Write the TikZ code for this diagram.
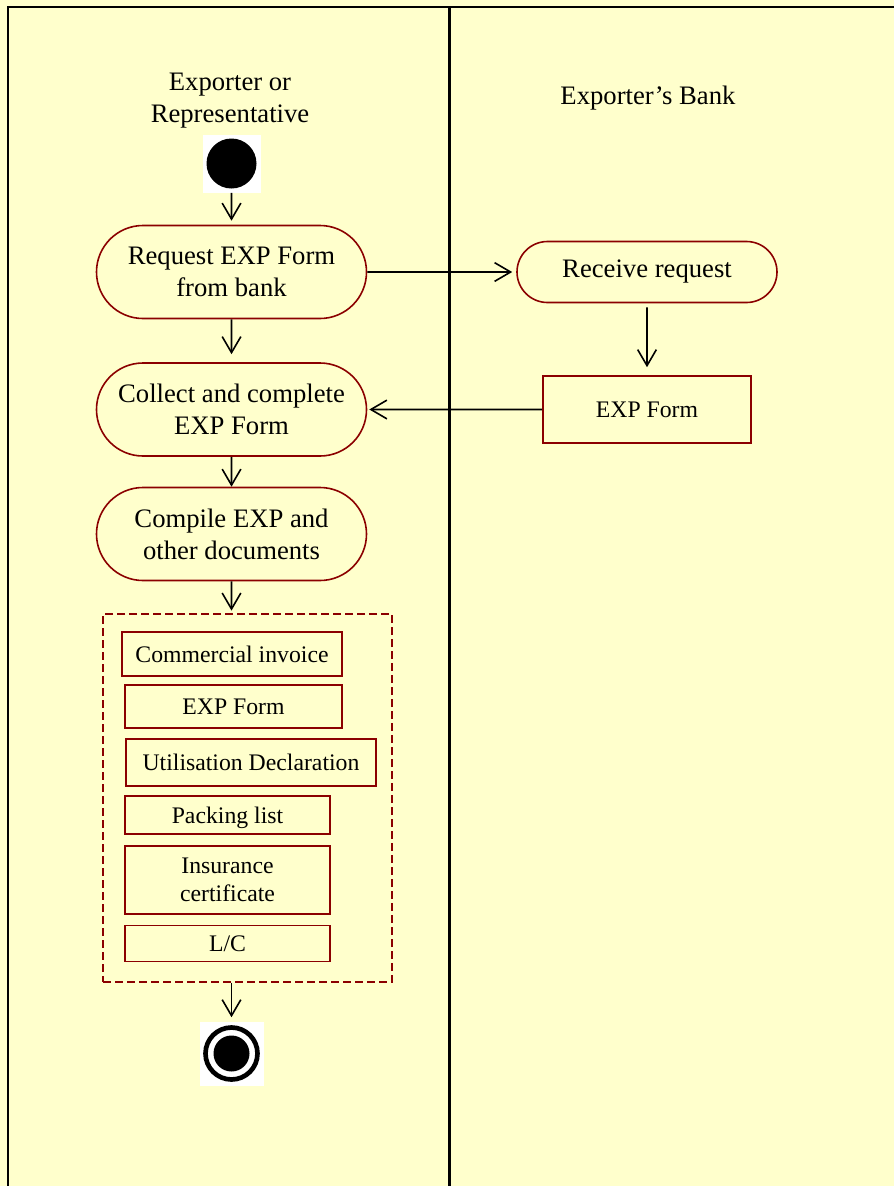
\documentclass[tikz,border=0pt]{standalone}
\usepackage{fontspec}
\setmainfont{Liberation Serif}
\usetikzlibrary{arrows.meta,shapes.misc}
\definecolor{lane}{HTML}{FFFFCC}
\definecolor{edge}{HTML}{8B0000}
\begin{document}
\begin{tikzpicture}[x=0.75pt,y=-0.75pt,
  act/.style={rounded rectangle, draw=edge, fill=lane, line width=1.2pt, align=center, font=\fontsize{20}{24}\selectfont, inner sep=0pt},
  doc/.style={rectangle, draw=edge, fill=lane, line width=1.2pt, align=center, font=\fontsize{17.8}{21}\selectfont, inner sep=0pt},
  flow/.style={-{Straight Barb[length=12pt,width=14pt]}, line width=1.2pt},
  lanetitle/.style={align=center, font=\fontsize{20}{23.5}\selectfont}]
\useasboundingbox (0,0) rectangle (894,1186);
\fill[lane] (0,0) rectangle (894,1186);
\draw[line width=1.5pt] (7.5,1186) -- (7.5,6.5) -- (894,6.5);
\draw[line width=2.3pt] (449.5,6.5) -- (449.5,1186);

% lanes
\node (exporter) at (230,100.5) [lanetitle] {Exporter or\\Representative};
\node (bank) at (648,98) [lanetitle] {Exporter’s Bank};

% exporter side
\node (start) at (231.5,163.5) [fill=white, minimum size=43.5pt, inner sep=0pt] {};
\node (startdot) at (start) [circle, fill=black, minimum size=37.5pt, inner sep=0pt] {};
\node (req) at (231.5,272) [act, minimum width=202.5pt, minimum height=69.75pt] {Request EXP Form\\from bank};
\node (coll) at (231.5,409.5) [act, minimum width=202.5pt, minimum height=69.75pt] {Collect and complete\\EXP Form};
\node (comp) at (231.5,534) [act, minimum width=202.5pt, minimum height=69.75pt] {Compile EXP and\\other documents};
\node (docs) at (247.5,798) [draw=edge, dash pattern=on 6pt off 3pt, line width=1.1pt, minimum width=216.75pt, minimum height=276pt, inner sep=0pt] {};
\node (invoice) at (232,654) [doc, minimum width=165pt, minimum height=33pt] {Commercial invoice};
\node (expdoc) at (233.5,706.5) [doc, minimum width=162.75pt, minimum height=32.25pt] {EXP Form};
\node (utilisation) at (251,762.5) [doc, minimum width=187.5pt, minimum height=35.25pt] {Utilisation Declaration};
\node (packing) at (227.5,815) [doc, text depth=0pt, minimum width=153.75pt, minimum height=28.5pt] {Packing list};
\node (insurance) at (227.5,880) [doc, minimum width=153.75pt, minimum height=51pt] {Insurance\\certificate};
\node (lc) at (227.5,943.5) [doc, minimum width=153.75pt, minimum height=27pt] {L/C};
\node (end) at (231.5,1053.5) [fill=white, minimum size=48pt, inner sep=0pt] {};
\node (endring) at (end) [circle, draw, line width=3.5pt, minimum size=39pt, inner sep=0pt] {};
\node (enddot) at (end) [circle, fill=black, minimum size=27pt, inner sep=0pt] {};

% bank side
\node (recv) at (647,272) [act, minimum width=195pt, minimum height=45.75pt] {Receive request};
\node (expbank) at (647,409.5) [doc, minimum width=156pt, minimum height=50.25pt] {EXP Form};

\draw[flow, shorten >=3pt] (start) to (req);
\draw[flow, shorten >=6pt] (req) to (coll);
\draw[flow] (coll) to (comp);
\draw[flow, shorten >=2pt] (comp) to (comp |- docs.north);
\draw[flow, shorten >=3pt] (docs.south -| end) to (end);
\draw[flow, shorten >=3pt] (req) to (recv);
\draw[flow, shorten <=3pt, shorten >=6pt] (recv) to (expbank);
\draw[flow, shorten >=1.5pt] (expbank) to (coll);
\end{tikzpicture}
\end{document}
